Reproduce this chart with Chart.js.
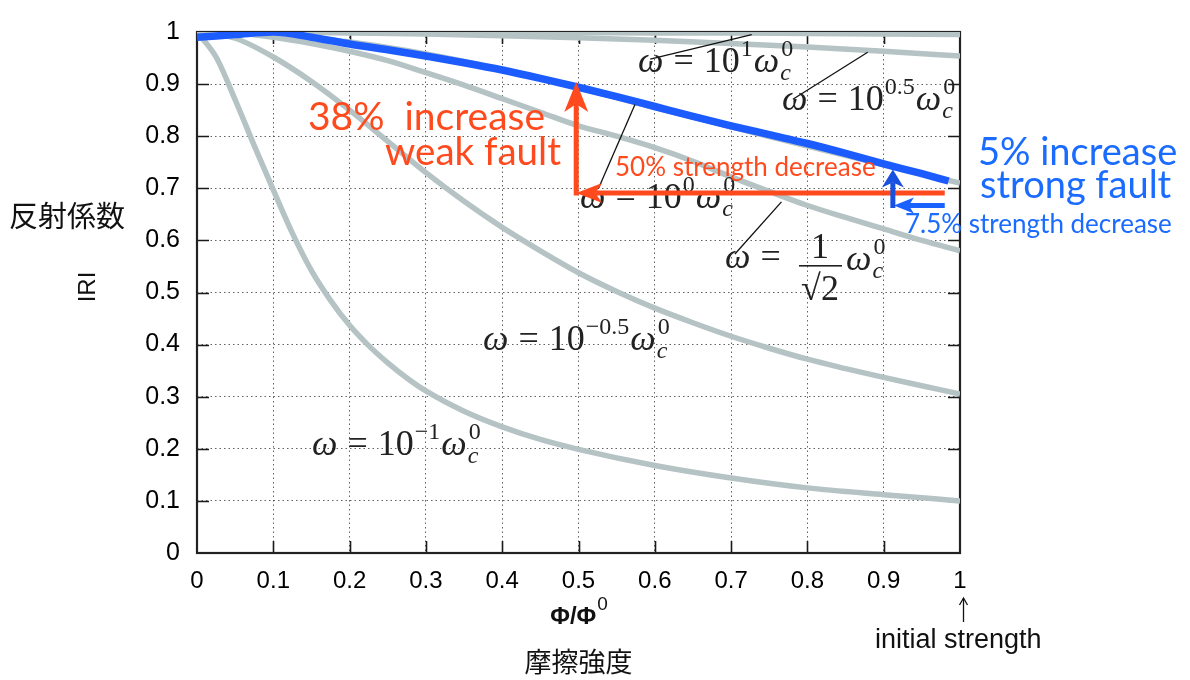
<!DOCTYPE html>
<html><head><meta charset="utf-8">
<script src="https://cdn.jsdelivr.net/npm/chart.js@4.4.1/dist/chart.umd.min.js"></script>
<style>html,body{margin:0;padding:0;background:#fff;}#wrap{width:1190px;height:680px;position:relative;}</style>
</head><body><div id="wrap"><canvas id="c" width="1190" height="680"></canvas></div>
<script>
// ---------------- data ----------------
const xTickLabels = ['0','0.1','0.2','0.3','0.4','0.5','0.6','0.7','0.8','0.9','1'];
const yTickLabels = ['0','0.1','0.2','0.3','0.4','0.5','0.6','0.7','0.8','0.9','1'];

const phiSteep = [0,0.025,0.05,0.075,0.1,0.125,0.15,0.175,0.2,0.225,0.25,0.275,0.3,0.35,0.4,0.45,0.5,0.6,0.7,0.8,0.9,1.0];
const rOmegaM1 = [1.0,0.952,0.87,0.782,0.697,0.614,0.542,0.485,0.437,0.398,0.365,0.336,0.311,0.272,0.242,0.218,0.199,0.168,0.144,0.125,0.112,0.10];

const phiHalf = [0,0.05,0.1,0.15,0.2,0.25,0.3,0.35,0.4,0.45,0.5,0.55,0.6,0.65,0.7,0.75,0.8,0.85,0.9,0.95,1.0];
const rOmegaM05 = [1,0.988,0.952,0.905,0.85,0.79,0.73,0.675,0.625,0.58,0.538,0.502,0.47,0.442,0.416,0.393,0.372,0.354,0.337,0.321,0.305];
const rOmegaInvSqrt2 = [1,0.998,0.99,0.978,0.963,0.945,0.922,0.898,0.872,0.846,0.82,0.80,0.778,0.752,0.722,0.694,0.667,0.644,0.622,0.60,0.58];

const phiTenth = [0,0.1,0.2,0.3,0.4,0.5,0.6,0.7,0.8,0.9,1.0];
const rOmega0 = [1,0.995,0.981,0.958,0.928,0.893,0.855,0.818,0.781,0.745,0.71];
const rOmegaP05 = [1,1,0.998,0.996,0.993,0.989,0.984,0.978,0.971,0.963,0.954];
const rOmegaP1 = [1,1,1,1,0.999,0.999,0.998,0.998,0.997,0.996,0.995];

// hand-drawn highlight over the omega = 10^0 curve
const phiBlue = [0,0.05,0.1,0.15,0.2,0.25,0.3,0.35,0.4,0.45,0.5,0.55,0.6,0.65,0.7,0.75,0.8,0.85,0.9,0.95,0.985];
const rBlue = [0.99,0.995,1.0,0.99,0.977,0.966,0.954,0.941,0.927,0.911,0.894,0.876,0.857,0.838,0.82,0.803,0.786,0.767,0.747,0.728,0.714];

// ---------------- styles ----------------
const GRAY = '#b5c3c5', BLUE = '#1c5cff', RED = '#ff4a1e', BLUE_TXT = '#1a6bff';
const SANS = '"Liberation Sans", Arial, Helvetica, sans-serif';
const HUM = 'Lato, "Open Sans", sans-serif';
const SERIF = '"Liberation Serif", "DejaVu Serif", serif';
const CJK = '"Noto Sans CJK JP", "Noto Sans CJK SC", sans-serif';

const pts = (xs, ys) => xs.map((x, i) => ({x, y: ys[i]}));
function grayDs(xs, ys) {
  return {data: pts(xs, ys), borderColor: GRAY, borderWidth: 5.5, pointRadius: 0, tension: 0.4,
          cubicInterpolationMode: 'monotone', order: 1, borderCapStyle: 'butt'};
}

// annotation geometry in data units
const leaders = [
  [[0.594,0.948],[0.727,0.995]],
  [[0.781,0.871],[0.879,0.961]],
  [[0.526,0.699],[0.574,0.861]],
  [[0.705,0.574],[0.766,0.674]]
];
const redArrowY = 0.691, redArrowX = 0.497, redTopV = 0.904, redStartX = 0.98;
const blueArrowY = 0.667, blueArrowX = 0.912, blueTopV = 0.736, blueStartX = 0.98;

function mfont(sz, it) { return (it ? 'italic ' : '') + sz + 'px ' + SERIF; }
const MF = 36, MS = 24;
function omegaC(ctx, cx, y) {
  ctx.font = mfont(MF, true); ctx.fillText('ω', cx, y); cx += ctx.measureText('ω').width + 1;
  ctx.font = mfont(MS, true); ctx.fillText('c', cx, y + 8);
  ctx.font = mfont(MS, false); ctx.fillText('0', cx + 1, y - 16);
}
function omegaLabel(ctx, x, y, exp) {
  let cx = x;
  ctx.font = mfont(MF, true); ctx.fillText('ω', cx, y); cx += ctx.measureText('ω').width + 10;
  ctx.font = mfont(MF, false); ctx.fillText('=', cx, y); cx += ctx.measureText('=').width + 10;
  ctx.fillText('10', cx, y); cx += ctx.measureText('10').width + 1;
  ctx.font = mfont(MS, false); ctx.fillText(exp, cx, y - 16); cx += ctx.measureText(exp).width + 1;
  omegaC(ctx, cx, y);
}
function arrow(ctx, x0, y0, x1, y1, color, w, hl, hw, notch) {
  const dx = x1 - x0, dy = y1 - y0, L = Math.hypot(dx, dy), ux = dx / L, uy = dy / L, px = -uy, py = ux;
  ctx.strokeStyle = color; ctx.fillStyle = color; ctx.lineWidth = w; ctx.lineCap = 'butt';
  ctx.beginPath(); ctx.moveTo(x0, y0); ctx.lineTo(x1 - ux * (hl - notch), y1 - uy * (hl - notch)); ctx.stroke();
  ctx.beginPath(); ctx.moveTo(x1, y1);
  ctx.lineTo(x1 - ux * hl + px * hw, y1 - uy * hl + py * hw);
  ctx.lineTo(x1 - ux * (hl - notch), y1 - uy * (hl - notch));
  ctx.lineTo(x1 - ux * hl - px * hw, y1 - uy * hl - py * hw);
  ctx.closePath(); ctx.fill();
}

const frame = {
  id: 'frame',
  beforeDatasetsDraw(chart) {
    const {ctx, chartArea: a, scales: {x, y}} = chart;
    ctx.save();
    ctx.strokeStyle = '#1a1a1a'; ctx.lineWidth = 1.6;
    for (let i = 1; i < 10; i++) {
      const px = Math.round(x.getPixelForValue(i / 10)) + 0.5;
      ctx.beginPath(); ctx.moveTo(px, a.bottom); ctx.lineTo(px, a.bottom - 12);
      ctx.moveTo(px, a.top); ctx.lineTo(px, a.top + 12); ctx.stroke();
      const py = Math.round(y.getPixelForValue(i / 10)) + 0.5;
      ctx.beginPath(); ctx.moveTo(a.left, py); ctx.lineTo(a.left + 12, py);
      ctx.moveTo(a.right, py); ctx.lineTo(a.right - 12, py); ctx.stroke();
    }
    ctx.lineWidth = 2.2; ctx.strokeStyle = '#222';
    ctx.strokeRect(a.left, a.top, a.right - a.left, a.bottom - a.top);
    ctx.restore();
  },
  afterDatasetsDraw(chart) {
    const {ctx, scales: {x, y}} = chart;
    const X = v => x.getPixelForValue(v), Y = v => y.getPixelForValue(v);
    ctx.save();
    // leader lines
    ctx.strokeStyle = '#111'; ctx.lineWidth = 1.3;
    leaders.forEach(([p, q]) => { ctx.beginPath(); ctx.moveTo(X(p[0]), Y(p[1])); ctx.lineTo(X(q[0]), Y(q[1])); ctx.stroke(); });
    // math labels
    ctx.fillStyle = '#222'; ctx.textBaseline = 'alphabetic'; ctx.textAlign = 'left';
    omegaLabel(ctx, 638, 72, '1');
    omegaLabel(ctx, 782, 110, '0.5');
    omegaLabel(ctx, 580, 208, '0');
    omegaLabel(ctx, 483, 350, '−0.5');
    omegaLabel(ctx, 312, 455, '−1');
    // 1/sqrt2 label
    ctx.font = mfont(MF, true); ctx.fillText('ω', 725, 268);
    let cx = 725 + ctx.measureText('ω').width + 10;
    ctx.font = mfont(MF, false); ctx.fillText('=', cx, 268);
    ctx.textAlign = 'center';
    ctx.fillText('1', 820, 258);
    ctx.fillText('√2', 820, 300);
    ctx.fillRect(799, 265, 43, 1.6);
    ctx.textAlign = 'left';
    omegaC(ctx, 846, 270);

    // red arrows
    arrow(ctx, X(redStartX), Y(redArrowY), X(redArrowX), Y(redArrowY), RED, 5, 26, 10, 7);
    arrow(ctx, X(redArrowX), Y(redArrowY) + 2.5, X(redArrowX), Y(redTopV), RED, 5, 30, 12, 8);
    // blue arrows
    arrow(ctx, X(blueStartX), Y(blueArrowY), X(blueArrowX) + 1, Y(blueArrowY), '#1a62ff', 5, 20, 8, 5);
    arrow(ctx, X(blueArrowX), Y(blueArrowY) + 2.5, X(blueArrowX), Y(blueTopV), '#1850e0', 5, 18, 11, 5);

    // red texts
    ctx.fillStyle = RED; ctx.textAlign = 'left';
    ctx.font = '39px ' + HUM;
    ctx.fillText('38%  increase', 308, 130, 238);
    ctx.fillText('weak fault', 385, 165, 176);
    ctx.font = '26px ' + HUM;
    ctx.fillText('50% strength decrease', 615, 176, 264);
    // blue texts
    ctx.fillStyle = BLUE_TXT;
    ctx.font = '38px ' + HUM;
    ctx.fillText('5% increase', 978, 165, 200);
    ctx.fillText('strong fault', 980, 198, 196);
    ctx.font = '26px ' + HUM;
    ctx.fillText('7.5% strength decrease', 905, 233, 268);
    ctx.restore();
  },
  afterDraw(chart) {
    const {ctx, chartArea: a} = chart;
    const cxm = (a.left + a.right) / 2;
    ctx.save();
    ctx.fillStyle = '#111'; ctx.textBaseline = 'alphabetic';
    // x title
    ctx.font = 'bold 24px ' + SANS;
    const t1 = 'Φ/Φ'; const w1 = ctx.measureText(t1).width;
    ctx.font = '19px ' + SANS; const w2 = ctx.measureText('0').width;
    const sx = cxm - (w1 + w2) / 2;
    ctx.font = 'bold 24px ' + SANS; ctx.textAlign = 'left'; ctx.fillText(t1, sx, 624);
    ctx.font = '19px ' + SANS; ctx.fillText('0', sx + w1 + 1, 610);
    ctx.textAlign = 'center';
    ctx.font = '27px ' + CJK; ctx.fillText('摩擦強度', cxm, 672);
    // y titles
    ctx.textAlign = 'left';
    ctx.font = '29px ' + CJK; ctx.fillText('反射係数', 9, 227);
    ctx.save(); ctx.translate(95, 287); ctx.rotate(-Math.PI / 2);
    ctx.textAlign = 'center'; ctx.font = '24px ' + SANS; ctx.fillText('IRI', 0, 0); ctx.restore();
    // initial strength
    ctx.textAlign = 'left'; ctx.font = '27px ' + SANS;
    ctx.fillText('initial strength', 875, 648, 178);
    ctx.strokeStyle = '#111'; ctx.lineWidth = 1.3;
    ctx.beginPath(); ctx.moveTo(963.5, 622); ctx.lineTo(963.5, 599); ctx.stroke();
    ctx.beginPath(); ctx.moveTo(959.5, 605); ctx.lineTo(963.5, 598); ctx.lineTo(967.5, 605); ctx.stroke();
    ctx.restore();
  }
};

new Chart(document.getElementById('c'), {
  type: 'line',
  data: {
    datasets: [
      {data: pts(phiBlue, rBlue), borderColor: BLUE, borderWidth: 7.5, pointRadius: 0, tension: 0.4,
       cubicInterpolationMode: 'monotone', order: 0},
      grayDs(phiTenth, rOmegaP1),
      grayDs(phiTenth, rOmegaP05),
      grayDs(phiTenth, rOmega0),
      grayDs(phiHalf, rOmegaInvSqrt2),
      grayDs(phiHalf, rOmegaM05),
      grayDs(phiSteep, rOmegaM1)
    ]
  },
  options: {
    responsive: false, animation: false, events: [],
    layout: {padding: {left: 0, top: 19, right: 230, bottom: 0}},
    plugins: {legend: {display: false}, tooltip: {enabled: false}},
    scales: {
      x: {type: 'linear', min: 0, max: 1, position: 'bottom',
          afterFit(s) { s.height = 127; },
          ticks: {stepSize: 0.1, padding: 14, color: '#000', maxRotation: 0, autoSkip: false,
                  font: {family: SANS, size: 24}, callback: (v, i) => xTickLabels[i]},
          grid: {color: 'rgba(60,60,60,0.8)', lineWidth: 1, drawTicks: false},
          border: {display: false, dash: [1.5, 3]}},
      y: {type: 'linear', min: 0, max: 1, position: 'left',
          afterFit(s) { s.width = 197; },
          ticks: {stepSize: 0.1, padding: 17, color: '#000', autoSkip: false,
                  font: {family: SANS, size: 25}, callback: (v, i) => yTickLabels[i]},
          grid: {color: 'rgba(60,60,60,0.8)', lineWidth: 1, drawTicks: false},
          border: {display: false, dash: [1.5, 3]}}
    }
  },
  plugins: [frame]
});
</script></body></html>
